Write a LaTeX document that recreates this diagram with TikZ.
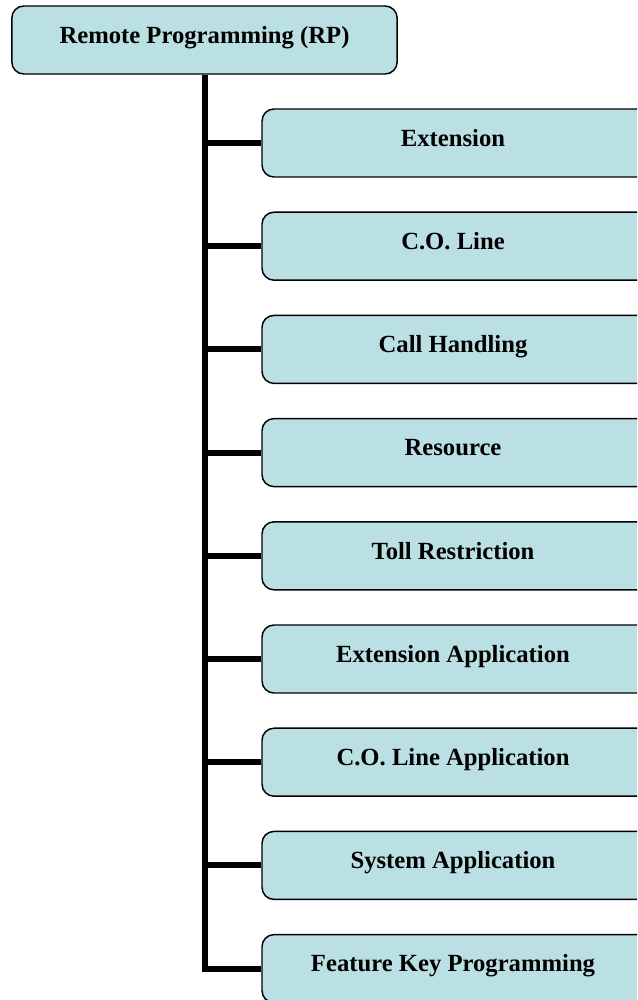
\documentclass[tikz,border=0pt]{standalone}
\usepackage{fontspec}
\setmainfont{Liberation Serif}
\usetikzlibrary{positioning}
\definecolor{boxfill}{RGB}{186,224,228}
\tikzset{
    rpbox/.style={draw=black, line width=1.1pt, fill=boxfill, rounded corners=9pt,
        minimum width=287pt, minimum height=51pt, inner sep=0pt,
        text height=11pt, text depth=6pt,
        font=\fontsize{18.5}{21}\selectfont\bfseries},
    itembox/.style={rpbox, minimum width=294pt, execute at begin node={\kern-7.5pt}},
    trunk/.style={line width=4.5pt}
}
\begin{document}
\begin{tikzpicture}[x=0.75pt, y=-0.75pt]
    %
    \useasboundingbox (0,0) rectangle (637,1000);
    \clip (0,0) rectangle (637,1000);

    %
    \node[rpbox, minimum width=289pt] (rp) at (204.5,40) {Remote Programming (RP)};

    %
    \foreach \name [count=\i] in {Extension, C.O. Line, Call Handling, Resource,
        Toll Restriction, Extension Application, C.O. Line Application,
        System Application, Feature Key Programming}
        \node[itembox] (m\i) at (458, {143+103.2*(\i-1)}) {\name};

    %
    \draw[trunk] (rp.south) -- (rp.south |- m9.west) -- (m9.west);
    \foreach \i in {1,...,8}
        \draw[trunk] (rp.south |- m\i.west) -- (m\i.west);

\end{tikzpicture}
\end{document}
